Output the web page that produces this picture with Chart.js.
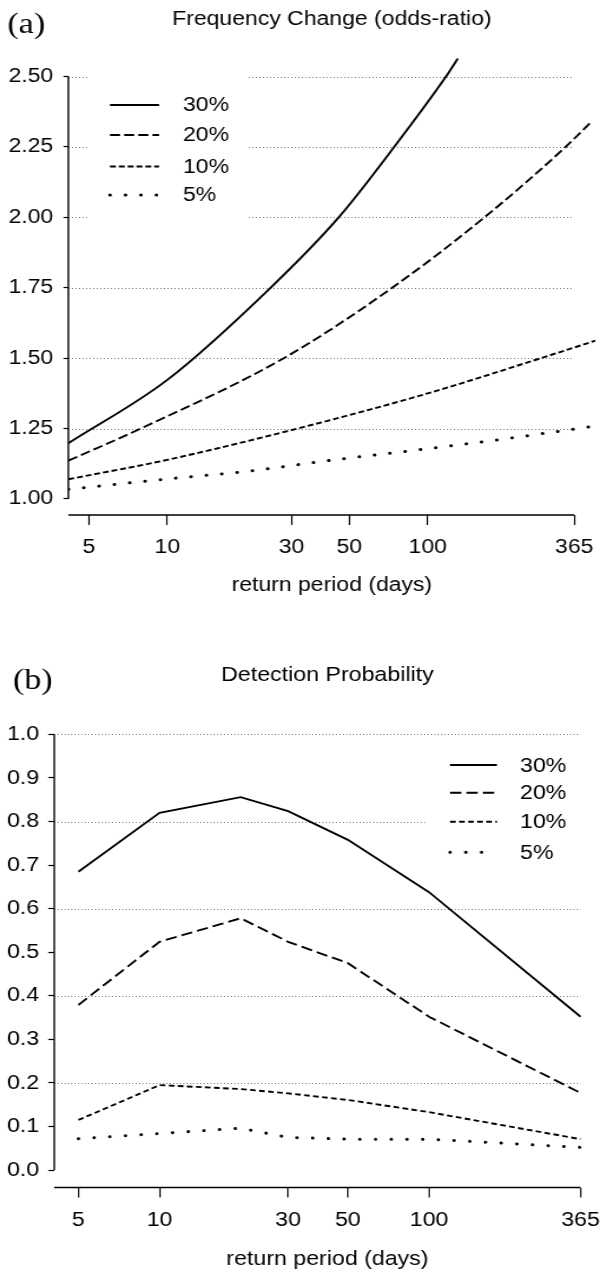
<!DOCTYPE html>
<html>
<head>
<meta charset="utf-8">
<script src="https://cdn.jsdelivr.net/npm/chart.js@4.4.1/dist/chart.umd.min.js"></script>
<style>
    html, body { margin: 0; padding: 0; background: #fff; }
    body { width: 613px; height: 1272px; position: relative; overflow: hidden; }
    canvas { position: absolute; left: 0; }
</style>
</head>
<body>
<canvas id="freqChart" width="520" height="640" style="top:0;width:613px;height:640px;"></canvas>
<canvas id="detChart" width="542" height="632" style="top:640px;width:613px;height:632px;"></canvas>
<script>
// series names, shared by both panels
const seriesLabels = ['30%', '20%', '10%', '5%'];
const xTickValues = [5, 10, 30, 50, 100, 365];

// (a) frequency change (odds-ratio)
const freqX30 = [4.17, 10, 24.9, 45.5, 74.3, 117.5, 130.6];
const freqY30 = [1.198, 1.423, 1.75, 2.00, 2.25, 2.50, 2.565];
const freqX20 = [4.17, 7.91, 28, 73, 165, 338, 425];
const freqY20 = [1.136, 1.25, 1.50, 1.75, 2.00, 2.25, 2.34];
const freqX10 = [4.17, 10, 31.6, 100, 272, 440];
const freqY10 = [1.070, 1.139, 1.25, 1.375, 1.50, 1.562];
const freqX5 = [4.17, 10, 19.7, 43.9, 99, 196, 440];
const freqY5 = [1.034, 1.071, 1.097, 1.139, 1.178, 1.213, 1.259];
const freqTicks = [1.00, 1.25, 1.50, 1.75, 2.00, 2.25, 2.50];
const freqGrid = [1.25, 1.50, 1.75, 2.00, 2.25, 2.50];

// (b) detection probability
const detPeriods = [5, 10, 20, 30, 50, 100, 365];
const det30 = [0.685, 0.820, 0.856, 0.824, 0.758, 0.638, 0.352];
const det20 = [0.379, 0.524, 0.578, 0.524, 0.475, 0.352, 0.177];
const det10 = [0.115, 0.195, 0.186, 0.176, 0.161, 0.133, 0.071];
const det5 = [0.072, 0.084, 0.096, 0.075, 0.071, 0.071, 0.052];
const detTicks = [0.0, 0.1, 0.2, 0.3, 0.4, 0.5, 0.6, 0.7, 0.8, 0.9, 1.0];
const detGrid = [0.2, 0.4, 0.6, 0.8, 1.0];

const SANS = '"Liberation Sans", Arial, sans-serif';
const SERIF = '"Liberation Serif", "Times New Roman", serif';

function points(xs, ys) {
    return xs.map((x, i) => ({ x: x, y: ys[i] }));
}

function lineSet(label, data, dash, smooth) {
    const dotted = dash === 'dot';
    return {
        label: label,
        data: data,
        borderColor: '#000',
        borderWidth: dotted ? 3 : 1.9,
        borderDash: dotted ? [0.1, smooth ? 13 : 13.8] : dash,
        borderCapStyle: dotted ? 'round' : 'butt',
        pointRadius: 0,
        fill: false,
        tension: 0,
        // smooth curves in (a), straight segments in (b)
        cubicInterpolationMode: smooth ? 'monotone' : 'default'
    };
}

// gridlines, R style axis lines, legend box and the texts
function panelPlugin(p) {
    return {
        id: 'panel' + p.tag,
        beforeDatasetsDraw(chart) {
            const { ctx, chartArea } = chart;
            const x = chart.scales.x, y = chart.scales.y;
            const xEnd = x.getPixelForValue(365);
            ctx.save();
            ctx.strokeStyle = '#7a7a7a';
            ctx.lineWidth = 1;
            ctx.setLineDash([1, 2]);
            p.grid.forEach(v => {
                const py = Math.round(y.getPixelForValue(v)) + 0.5;
                ctx.beginPath();
                ctx.moveTo(chartArea.left, py);
                ctx.lineTo(xEnd, py);
                ctx.stroke();
            });
            ctx.setLineDash([]);
            ctx.fillStyle = '#fff';
            ctx.fillRect(p.legend.box[0], p.legend.box[1], p.legend.box[2], p.legend.box[3]);

            ctx.strokeStyle = '#000';
            ctx.lineWidth = 1.4;
            ctx.beginPath();
            ctx.moveTo(chartArea.left, y.getPixelForValue(p.ticks[0]));
            ctx.lineTo(chartArea.left, y.getPixelForValue(p.ticks[p.ticks.length - 1]));
            ctx.moveTo(chartArea.left, chartArea.bottom);
            ctx.lineTo(xEnd, chartArea.bottom);
            ctx.stroke();
            ctx.restore();
        },
        afterDraw(chart) {
            const { ctx, chartArea } = chart;
            const lg = p.legend;
            ctx.save();
            chart.data.datasets.forEach((ds, i) => {
                const ly = lg.rows[i];
                ctx.strokeStyle = '#000';
                ctx.lineWidth = ds.borderWidth;
                ctx.lineCap = ds.borderCapStyle;
                ctx.setLineDash(ds.borderDash || []);
                ctx.beginPath();
                ctx.moveTo(lg.x0, ly);
                ctx.lineTo(lg.x1, ly);
                ctx.stroke();
                ctx.setLineDash([]);
                ctx.fillStyle = '#000';
                ctx.font = p.fontSize + 'px ' + SANS;
                ctx.textAlign = 'left';
                ctx.textBaseline = 'middle';
                ctx.fillText(ds.label, lg.textX, ly + 1);
            });

            const cx = (chartArea.left + chartArea.right) / 2;
            ctx.fillStyle = '#000';
            ctx.textAlign = 'center';
            ctx.textBaseline = 'middle';
            ctx.font = p.fontSize + 'px ' + SANS;
            ctx.fillText(p.title, cx, p.titleY);
            ctx.fillText('return period (days)', cx, p.axisTitleY);

            ctx.textAlign = 'left';
            ctx.font = p.tagSize + 'px ' + SERIF;
            ctx.fillText(p.tag, p.tagX, p.tagY);
            ctx.restore();
        }
    };
}

function makeChart(id, datasets, sc, p) {
    const ctx = document.getElementById(id).getContext('2d');
    return new Chart(ctx, {
        type: 'line',
        data: { datasets: datasets },
        options: {
            responsive: false,
            animation: false,
            devicePixelRatio: 1,
            layout: { padding: { left: 0, top: sc.top, right: sc.right, bottom: 0 } },
            plugins: { legend: { display: false }, title: { display: false }, tooltip: { enabled: false } },
            scales: {
                x: {
                    type: 'logarithmic',
                    min: sc.xMin,
                    max: sc.xMax,
                    afterBuildTicks: s => { s.ticks = xTickValues.map(v => ({ value: v })); },
                    afterFit: s => { s.height = sc.xHeight; },
                    border: { display: false },
                    grid: { drawOnChartArea: false, color: '#000', tickColor: '#000', tickLength: 10, tickWidth: 1.2 },
                    ticks: {
                        autoSkip: false,
                        maxRotation: 0,
                        padding: sc.xPad,
                        color: '#000',
                        font: { family: SANS, size: p.fontSize },
                        callback: v => String(v)
                    }
                },
                y: {
                    min: sc.yMin,
                    max: sc.yMax,
                    afterBuildTicks: s => { s.ticks = p.ticks.map(v => ({ value: v })); },
                    afterFit: s => { s.width = sc.yWidth; },
                    border: { display: false },
                    grid: { drawOnChartArea: false, color: '#000', tickColor: '#000', tickLength: sc.yTickLen, tickWidth: 1.2 },
                    ticks: {
                        padding: sc.yPad,
                        color: '#000',
                        font: { family: SANS, size: p.fontSize },
                        callback: v => v.toFixed(p.decimals)
                    }
                }
            }
        },
        plugins: [panelPlugin(p)]
    });
}

// (a) Frequency Change
makeChart('freqChart', [
    lineSet(seriesLabels[0], points(freqX30, freqY30), [], true),
    lineSet(seriesLabels[1], points(freqX20, freqY20), [8.5, 3.5], true),
    lineSet(seriesLabels[2], points(freqX10, freqY10), [5, 2.5], true),
    lineSet(seriesLabels[3], points(freqX5, freqY5), 'dot', true)
], {
    top: 58.3, right: 15, xHeight: 125, yWidth: 58,
    xMin: 4.17, xMax: 440, yMin: 0.943, yMax: 2.565,
    xPad: 11, yPad: 8.6, yTickLen: 4.2
}, {
    tag: '(a)', title: 'Frequency Change (odds-ratio)', fontSize: 19.5, tagSize: 29,
    titleY: 20, axisTitleY: 586, tagX: 6.2, tagY: 25, decimals: 2,
    ticks: freqTicks, grid: freqGrid,
    legend: { box: [74.6, 74, 135, 154], x0: 93.3, x1: 134.9, textX: 155.2, rows: [105, 135, 166.5, 195] }
});

// (b) Detection Probability
makeChart('detChart', [
    lineSet(seriesLabels[0], points(detPeriods, det30), [], false),
    lineSet(seriesLabels[1], points(detPeriods, det20), [10, 4.5], false),
    lineSet(seriesLabels[2], points(detPeriods, det10), [5, 3], false),
    lineSet(seriesLabels[3], points(detPeriods, det5), 'dot', false)
], {
    top: 77, right: 11, xHeight: 84.5, yWidth: 48,
    xMin: 4.07, xMax: 433, yMin: -0.040, yMax: 1.04,
    xPad: 10.7, yPad: 8, yTickLen: 5.3
}, {
    tag: '(b)', title: 'Detection Probability', fontSize: 20.5, tagSize: 30,
    titleY: 35.8, axisTitleY: 619, tagX: 11.5, tagY: 41, decimals: 1,
    ticks: detTicks, grid: detGrid,
    legend: { box: [375.8, 100, 160, 150], x0: 397.9, x1: 439.4, textX: 459.8, rows: [125, 152.7, 181.7, 212.3] }
});
</script>
</body>
</html>
